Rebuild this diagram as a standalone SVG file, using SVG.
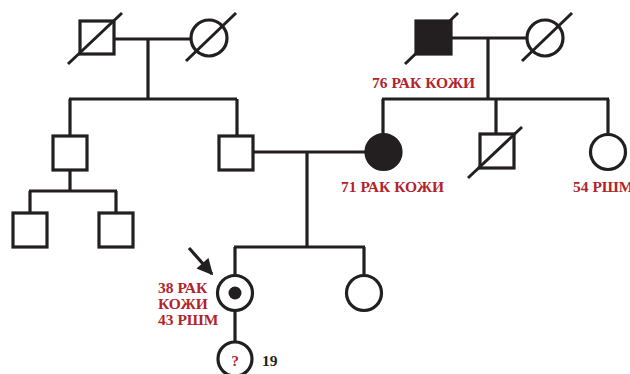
<svg xmlns="http://www.w3.org/2000/svg" width="630" height="374" viewBox="0 0 630 374">
  <style>
    .ln { stroke: #231f20; stroke-width: 3.2; fill: none; stroke-linecap: butt; }
    .nd { stroke: #231f20; stroke-width: 3.2; fill: #ffffff; }
    .aff { stroke: #231f20; stroke-width: 3.2; fill: #231f20; }
    .dec { stroke: #231f20; stroke-width: 3; }
    .lbl { font-family: "Liberation Serif", "Times New Roman", serif; font-weight: bold; font-size: 15.5px; fill: #b1242b; }
    .age { font-family: "Liberation Serif", "Times New Roman", serif; font-weight: bold; font-size: 15.5px; fill: #231f20; }
  </style>
  <defs>
    <marker id="arrowhead" viewBox="0 0 10 10" refX="9" refY="5" markerWidth="5.5" markerHeight="5" orient="auto" markerUnits="strokeWidth">
      <path d="M0,0 L10,5 L0,10 z" fill="#231f20"/>
    </marker>
  </defs>

  <!-- connectors: marriage lines, descent lines, sibships -->
  <g id="connectors">
    <!-- paternal grandparents -->
    <path class="ln" d="M114,39 H191"/>
    <path class="ln" d="M148,39 V99"/>
    <path class="ln" d="M69,99 H237"/>
    <path class="ln" d="M70,99 V136"/>
    <path class="ln" d="M237,99 V136"/>
    <!-- uncle's children -->
    <path class="ln" d="M70,170 V191"/>
    <path class="ln" d="M29,191 H117"/>
    <path class="ln" d="M30,191 V213"/>
    <path class="ln" d="M116,191 V213"/>
    <!-- maternal grandparents -->
    <path class="ln" d="M452,38 H527"/>
    <path class="ln" d="M488,38 V99"/>
    <path class="ln" d="M382,99 H609"/>
    <path class="ln" d="M383,99 V134"/>
    <path class="ln" d="M496,99 V134"/>
    <path class="ln" d="M608,99 V134"/>
    <!-- parents -->
    <path class="ln" d="M253,152 H365"/>
    <path class="ln" d="M307,152 V247"/>
    <path class="ln" d="M234,247 H365"/>
    <path class="ln" d="M235,247 V275"/>
    <path class="ln" d="M364,247 V275"/>
    <!-- proband to daughter -->
    <path class="ln" d="M235,311 V342"/>
    <!-- proband arrow -->
    <path class="ln" d="M189,248 L212,274" marker-end="url(#arrowhead)"/>
  </g>

  <!-- generation I -->
  <g id="pgf">
    <rect class="nd" x="80" y="21" width="34" height="33"/>
    <line class="dec" x1="68" y1="64" x2="122" y2="13"/>
  </g>
  <g id="pgm">
    <circle class="nd" cx="209" cy="38" r="18"/>
    <line class="dec" x1="186" y1="61" x2="236" y2="13"/>
  </g>
  <g id="mgf">
    <rect class="aff" x="416" y="21" width="35" height="33"/>
    <line class="dec" x1="405" y1="64" x2="458" y2="13"/>
    <text class="lbl" x="372" y="88">76 РАК КОЖИ</text>
  </g>
  <g id="mgm">
    <circle class="nd" cx="545" cy="38" r="18"/>
    <line class="dec" x1="522" y1="61" x2="572" y2="13"/>
  </g>

  <!-- generation II -->
  <g id="uncle">
    <rect class="nd" x="53" y="136" width="34" height="34"/>
  </g>
  <g id="father">
    <rect class="nd" x="219" y="136" width="34" height="34"/>
  </g>
  <g id="mother">
    <circle class="aff" cx="383.5" cy="152" r="17.5"/>
    <text class="lbl" x="341" y="192">71 РАК КОЖИ</text>
  </g>
  <g id="maternal-uncle">
    <rect class="nd" x="480" y="134" width="34" height="34"/>
    <line class="dec" x1="468" y1="178" x2="522" y2="127"/>
  </g>
  <g id="maternal-aunt">
    <circle class="nd" cx="608" cy="152" r="17.5"/>
    <text class="lbl" x="573" y="192">54 РШМ</text>
  </g>

  <!-- generation III -->
  <g id="cousin-1">
    <rect class="nd" x="13" y="213" width="34" height="34"/>
  </g>
  <g id="cousin-2">
    <rect class="nd" x="99" y="213" width="34" height="34"/>
  </g>
  <g id="proband">
    <circle class="nd" cx="235" cy="293" r="17.5"/>
    <circle cx="235" cy="293" r="6.5" fill="#231f20"/>
    <text class="lbl" x="158" y="293">38 РАК</text>
    <text class="lbl" x="158" y="309">КОЖИ</text>
    <text class="lbl" x="158" y="325">43 РШМ</text>
  </g>
  <g id="sister">
    <circle class="nd" cx="364" cy="293" r="17.5"/>
  </g>

  <!-- generation IV -->
  <g id="daughter">
    <circle class="nd" cx="235" cy="359" r="17"/>
    <text class="lbl" x="235" y="366" text-anchor="middle">?</text>
    <text class="age" x="262" y="366">19</text>
  </g>
</svg>
